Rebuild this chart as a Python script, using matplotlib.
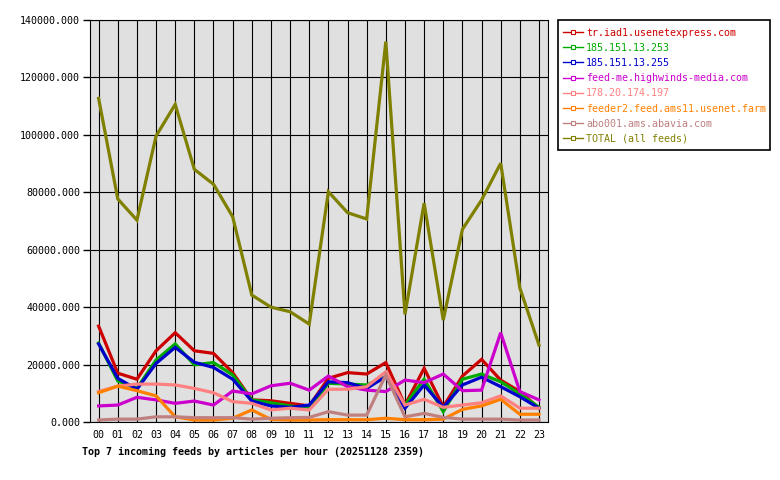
import numpy as np
import matplotlib.pyplot as plt
from matplotlib.lines import Line2D
from matplotlib.patches import Rectangle

# hours 00..23
hours = ['%02d' % h for h in range(24)]

# articles per hour
tr_iad1 = [33400, 17000, 14900, 24800, 31100, 24800, 23900, 17200, 7700, 7400, 6500, 5600,
           15200, 17200, 16700, 20700, 5900, 18700, 5300, 16000, 21800, 14600, 10600, 4800]
ip_253 = [27500, 14300, 11700, 21600, 27200, 19900, 20700, 16400, 7700, 6700, 5600, 4800,
          13500, 13200, 12900, 15800, 5900, 14900, 3600, 14900, 16700, 14000, 9800, 5100]
ip_255 = [27200, 15200, 11400, 20400, 26000, 20800, 19000, 14900, 7300, 5600, 5100, 5900,
          14000, 13700, 11700, 15800, 4800, 12900, 5100, 12900, 15600, 12300, 8800, 4800]
highwinds = [5600, 5900, 8600, 7700, 6500, 7300, 5900, 10800, 9800, 12600, 13500, 11100,
             16000, 12300, 11100, 10600, 14600, 13700, 16700, 10900, 11100, 31100, 10600, 7700]
ip_197 = [10600, 12500, 13200, 13200, 12900, 11700, 10200, 7100, 6500, 4200, 4800, 4200,
          11400, 11400, 12300, 17500, 5900, 7900, 5100, 5900, 6700, 9100, 4800, 4800]
feeder2 = [10200, 12500, 10900, 9100, 1800, 700, 700, 1300, 4200, 900, 700, 700,
           800, 800, 800, 1300, 800, 800, 1000, 4400, 5600, 7900, 2700, 2700]
abo001 = [700, 1000, 1000, 1800, 1800, 1500, 1500, 1500, 1000, 1300, 1500, 1600,
          3600, 2400, 2400, 16400, 1800, 3000, 1600, 1000, 1000, 1000, 700, 700]
total = [112700, 77700, 70300, 99600, 110600, 88000, 82800, 71500, 44200, 40000, 38400, 34100,
         80200, 72900, 70700, 132500, 37500, 76200, 35500, 67100, 77300, 90100, 46700, 26800]

names = ['tr.iad1.usenetexpress.com', '185.151.13.253', '185.151.13.255',
         'feed-me.highwinds-media.com', '178.20.174.197', 'feeder2.feed.ams11.usenet.farm',
         'abo001.ams.abavia.com', 'TOTAL (all feeds)']
series = [tr_iad1, ip_253, ip_255, highwinds, ip_197, feeder2, abo001, total]
colors = ['#cc0000', '#00aa00', '#0000cc', '#cc00cc', '#ff8080', '#ff8000', '#c08080', '#808000']

plt.rcParams['font.family'] = 'DejaVu Sans Mono'
plt.rcParams['font.size'] = 7.2

fig = plt.figure(figsize=(7.8, 4.8), dpi=100)
ax = fig.add_axes([90 / 780, 58 / 480, 458 / 780, 402 / 480])
ax.set_facecolor('#e0e0e0')

x = np.arange(24)
for vals, c in zip(series, colors):
    ax.plot(x, vals, color=c, linewidth=2.3, solid_joinstyle='miter')

ax.set_xlim(-0.45, 23.47)
ax.set_ylim(0, 140000)
ax.set_xticks(x)
ax.set_xticklabels(hours)
ax.set_yticks(np.arange(0, 140001, 20000))
ax.set_yticklabels(['%d.000' % v for v in range(0, 140001, 20000)])
ax.tick_params(axis='x', length=0, pad=6)
ax.tick_params(axis='y', length=5, width=1, pad=2)
ax.grid(True, color='black', linewidth=0.8)
ax.set_axisbelow(True)
for s in ax.spines.values():
    s.set_color('black')
    s.set_linewidth(0.8)

# legend box drawn by hand, entries with thin lines and small open marker
fig.patches.append(Rectangle((558 / 780, 1 - 150 / 480), 212 / 780, 130 / 480,
                             transform=fig.transFigure, facecolor='white',
                             edgecolor='black', linewidth=1.2, zorder=0))
handles = [Line2D([], [], color=c, lw=1, marker='s', ms=3, mfc='white', mec=c, mew=0.8)
           for c in colors]
leg = fig.legend(handles, names, loc='upper left', bbox_to_anchor=(555 / 780, 1 - 20 / 480),
                 frameon=False, handlelength=2.0, handletextpad=0.35, labelspacing=0.52,
                 borderpad=0.75, borderaxespad=0, numpoints=1)
for t, c in zip(leg.get_texts(), colors):
    t.set_color(c)

fig.text(82 / 780, 1 - 452 / 480, 'Top 7 incoming feeds by articles per hour (20251128 2359)',
         fontweight='bold', va='center', ha='left')

fig.savefig('out.png', dpi=100)
